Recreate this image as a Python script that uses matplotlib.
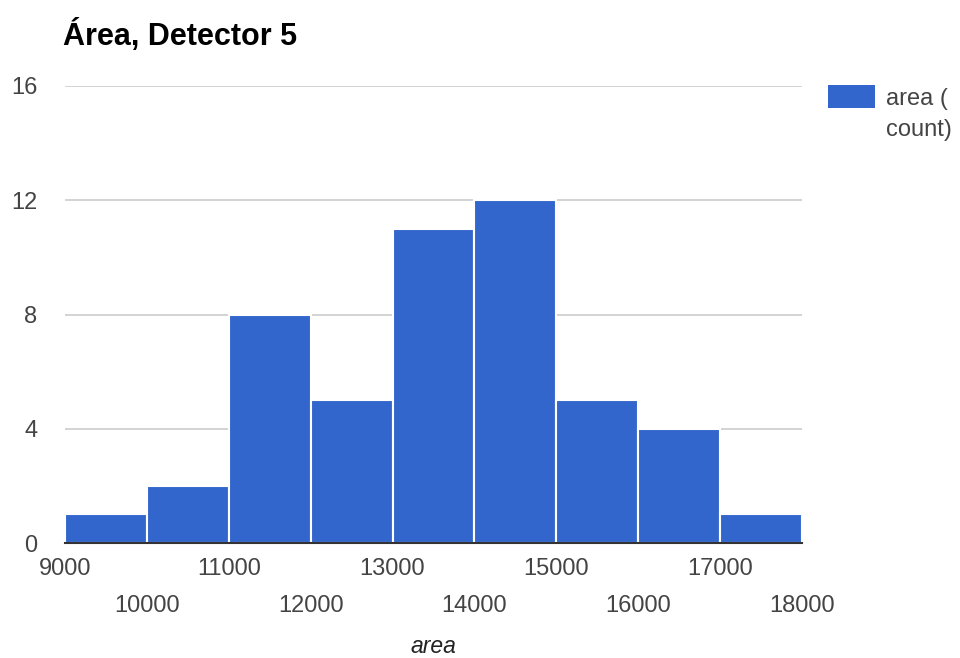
import matplotlib
matplotlib.use("Agg")
import matplotlib.pyplot as plt
from matplotlib.patches import Rectangle

bin_edges = [9000, 10000, 11000, 12000, 13000, 14000, 15000, 16000, 17000, 18000]
counts = [1, 2, 8, 5, 11, 12, 5, 4, 1]
y_ticks = [0, 4, 8, 12, 16]
title = "Área, Detector 5"
x_label = "area"
legend_lines = ["area (", "count)"]

plt.rcParams['font.family'] = ['Liberation Sans', 'DejaVu Sans']

fig = plt.figure(figsize=(9.6, 6.58), dpi=100)
W, H = 960, 658
ax = fig.add_axes([65 / W, 1 - 543 / H, (802 - 65) / W, (543 - 86) / H])

bar_color = '#3366CC'
lefts = bin_edges[:-1]
widths = [b - a for a, b in zip(bin_edges[:-1], bin_edges[1:])]
ax.bar(lefts, counts, width=widths, align='edge', color=bar_color,
       edgecolor='white', linewidth=1.5, zorder=2)

ax.set_xlim(bin_edges[0], bin_edges[-1])
ax.set_ylim(0, 16)
ax.set_yticks(y_ticks)
ax.set_yticklabels([str(v) for v in y_ticks])
ax.yaxis.grid(True, color='#cccccc', linewidth=1.2, zorder=0)
ax.set_axisbelow(True)
for s in ['top', 'right', 'left']:
    ax.spines[s].set_visible(False)
ax.spines['bottom'].set_color('#333333')
ax.spines['bottom'].set_linewidth(1.5)
ax.spines['bottom'].set_zorder(3)

fs = 17
major = bin_edges[0::2]
minor = bin_edges[1::2]
ax.set_xticks(major)
ax.set_xticklabels([str(v) for v in major])
ax.set_xticks(minor, minor=True)
ax.set_xticklabels([str(v) for v in minor], minor=True)
ax.tick_params(axis='x', which='major', length=0, pad=11, labelsize=fs, labelcolor='#444444')
ax.tick_params(axis='x', which='minor', length=0, pad=37.5, labelsize=fs, labelcolor='#444444')
ax.tick_params(axis='y', length=0, pad=20, labelsize=fs, labelcolor='#444444')

fig.text(433 / W, 1 - 653 / H, x_label, fontsize=16.5, style='italic', color='#222222',
         ha='center', va='baseline')

fig.text(63 / W, 1 - 45 / H, title, fontsize=22, fontweight='bold', color='#000000',
         ha='left', va='baseline')

# legend
fig.patches.append(Rectangle((828 / W, 1 - 108 / H), 47 / W, 23 / H,
                             transform=fig.transFigure, facecolor=bar_color,
                             edgecolor='none'))
fig.text(886 / W, 1 - 105 / H, legend_lines[0], fontsize=fs, color='#444444',
         ha='left', va='baseline')
fig.text(886 / W, 1 - 136 / H, legend_lines[1], fontsize=fs, color='#444444',
         ha='left', va='baseline')

fig.savefig("out.png", dpi=100)
